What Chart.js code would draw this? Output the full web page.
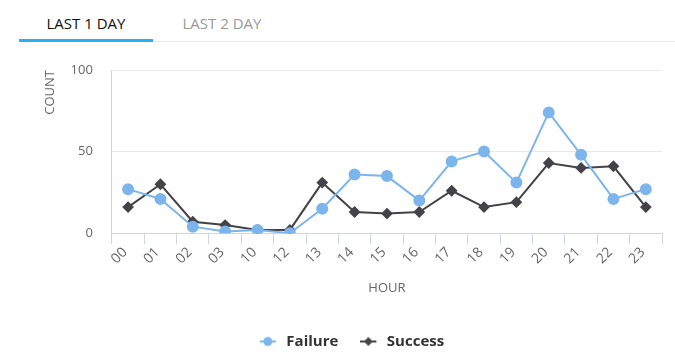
<!DOCTYPE html>
<html>
<head>
<meta charset="utf-8">
<script src="https://cdn.jsdelivr.net/npm/chart.js@4"></script>
<style>
  html, body { margin: 0; padding: 0; background: #fff; }
  body { width: 675px; height: 363px; position: relative; overflow: hidden; font-family: "Open Sans", sans-serif; }
  .tabs { position: absolute; left: 0; top: 0; width: 675px; height: 42px; }
  .tabline { position: absolute; left: 19px; right: 0; top: 41px; height: 1px; background: #e8e8e8; }
  .tab { position: absolute; top: 13px; font-size: 15px; line-height: 20px; white-space: nowrap; }
  .tab1 { left: 19px; width: 134px; text-align: center; color: #111; }
  .tab2 { left: 155px; width: 134px; text-align: center; color: #999; }
  .active { position: absolute; left: 19px; width: 134px; top: 39px; height: 3px; background: #29b0f4; }
  .wrap { position: absolute; left: 0; top: 50px; width: 675px; height: 313px; }
</style>
</head>
<body>
<div class="tabs">
  <div class="tabline"></div>
  <div class="tab tab1">LAST 1 DAY</div>
  <div class="tab tab2">LAST 2 DAY</div>
  <div class="active"></div>
</div>
<div class="wrap"><canvas id="c"></canvas></div>
<script>
const hours = ["00","01","02","03","10","12","13","14","15","16","17","18","19","20","21","22","23"];
const failure = [27, 21, 4, 1, 2, 0, 15, 36, 35, 20, 44, 50, 31, 74, 48, 21, 27];
const success = [16, 30, 7, 5, 2, 2, 31, 13, 12, 13, 26, 16, 19, 43, 40, 41, 16];
const yTicks = [0, 50, 100];

const failureColor = "#7cb5ec";
const successColor = "#434348";

function legendIcon(color, kind) {
  const c = document.createElement("canvas");
  c.width = 19; c.height = 12;
  const g = c.getContext("2d");
  g.strokeStyle = color; g.lineWidth = 2;
  g.beginPath(); g.moveTo(0, 6); g.lineTo(16, 6); g.stroke();
  g.fillStyle = color;
  g.beginPath();
  if (kind === "circle") {
    g.arc(8, 6, 4.5, 0, Math.PI * 2);
  } else {
    g.moveTo(8, 1.5); g.lineTo(12.5, 6); g.lineTo(8, 10.5); g.lineTo(3.5, 6); g.closePath();
  }
  g.fill();
  return c;
}
const icons = [legendIcon(failureColor, "circle"), legendIcon(successColor, "diamond")];

new Chart(document.getElementById("c"), {
  type: "line",
  data: {
    labels: hours,
    datasets: [
      { label: "Failure", data: failure, borderColor: failureColor, backgroundColor: failureColor,
        borderWidth: 2, pointRadius: 5, pointHoverRadius: 5, pointStyle: "circle", tension: 0 },
      { label: "Success", data: success, borderColor: successColor, backgroundColor: successColor,
        borderWidth: 2, pointRadius: 4.5, pointHoverRadius: 4.5, pointStyle: "rectRot", tension: 0 }
    ]
  },
  options: {
    responsive: true,
    maintainAspectRatio: false,
    animation: false,
    layout: { padding: { left: 42, right: 13, top: 20, bottom: 4 } },
    plugins: {
      tooltip: { enabled: false },
      legend: {
        position: "bottom",
        labels: {
          usePointStyle: true,
          pointStyleWidth: 19,
          padding: 22,
          color: "#333",
          font: { family: "Open Sans", size: 15, weight: "bold" },
          generateLabels(chart) {
            return chart.data.datasets.map((ds, i) => ({
              text: ds.label, fillStyle: ds.borderColor, strokeStyle: ds.borderColor,
              lineWidth: 0, pointStyle: icons[i], datasetIndex: i, hidden: false, fontColor: "#333"
            }));
          }
        }
      }
    },
    scales: {
      x: {
        offset: true,
        grid: { offset: true, drawOnChartArea: false, drawTicks: true, tickLength: 11, color: "#ccd6eb", lineWidth: 1 },
        border: { color: "#ccd6eb", width: 1 },
        ticks: { maxRotation: 45, minRotation: 45, color: "#666", padding: 0, labelOffset: -3,
                 font: { family: "Open Sans", size: 14 } },
        title: { display: true, text: "HOUR", color: "#666", padding: { top: 13, bottom: 16 },
                 font: { family: "Open Sans", size: 13 } }
      },
      y: {
        min: 0, max: 100,
        afterBuildTicks(axis) { axis.ticks = yTicks.map(v => ({ value: v })); },
        grid: { color: "#e9e9e9", drawTicks: true, tickLength: 19, tickColor: "rgba(0,0,0,0)", lineWidth: 1 },
        border: { display: true, color: "#ccd6eb", width: 1 },
        ticks: { color: "#666", padding: 0, font: { family: "Open Sans", size: 13 } },
        title: { display: true, text: "COUNT", align: "end", color: "#666", padding: { top: 0, bottom: 13 },
                 font: { family: "Open Sans", size: 13 } }
      }
    }
  }
});
</script>
</body>
</html>
